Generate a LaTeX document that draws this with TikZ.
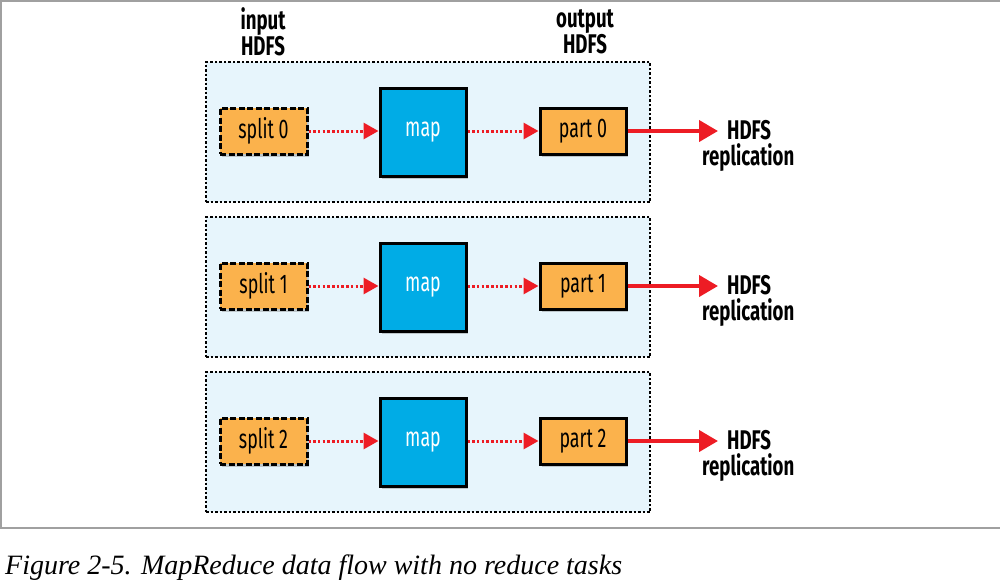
\documentclass[tikz,border=0pt]{standalone}
\usepackage{fontspec}
\setmainfont{Liberation Serif}
\newfontfamily\condfont[FakeStretch=0.66]{Fira Sans}
\newfontfamily\condbold[FakeStretch=0.69]{Fira Sans Bold}
\usepackage{xcolor}
\usetikzlibrary{arrows.meta,shadows}
\definecolor{hdBand}{RGB}{231,245,252}
\definecolor{hdOrange}{RGB}{251,178,76}
\definecolor{hdBlue}{RGB}{0,172,230}
\definecolor{hdRed}{RGB}{237,28,36}
\definecolor{hdFrame}{RGB}{160,160,160}

\begin{document}
\begin{tikzpicture}[
    x=1pt, y=-1pt,
    band/.style={rectangle, draw=black, fill=hdBand, line width=1.2pt, dash pattern=on 2.5pt off 2pt, minimum width=444pt, minimum height=140pt, inner sep=0pt},
    splitbox/.style={rectangle, draw=black, fill=hdOrange, line width=3pt, dash pattern=on 6pt off 2.5pt, minimum width=87pt, minimum height=46pt, inner sep=0pt, font=\condfont\fontsize{27}{29}\selectfont, drop shadow={shadow xshift=2pt, shadow yshift=-3pt, opacity=0.4}},
    partbox/.style={rectangle, draw=black, fill=hdOrange, line width=3pt, minimum width=86pt, minimum height=46pt, inner sep=0pt, font=\condfont\fontsize{27}{29}\selectfont, drop shadow={shadow xshift=2pt, shadow yshift=-3pt, opacity=0.4}},
    mapbox/.style={rectangle, draw=black, fill=hdBlue, text=white, line width=3pt, minimum width=86pt, minimum height=88pt, inner sep=0pt, font=\condfont\fontsize{27}{29}\selectfont, drop shadow={shadow xshift=2pt, shadow yshift=-3pt, opacity=0.4}},
    label/.style={align=center, font=\condbold\fontsize{27}{26}\selectfont, inner sep=0pt},
    flow/.style={-{Triangle[length=15pt,width=16pt]}, hdRed, line width=3pt, dash pattern=on 2.5pt off 2.2pt},
    repl/.style={-{Triangle[length=19pt,width=21pt]}, hdRed, line width=4pt}
]
\useasboundingbox (0,0) rectangle (1000,584);

% Outer frame
\draw[hdFrame, line width=2pt] (1000,1) -- (1,1) -- (1,528) -- (1000,528);

% Column titles (top)
\node[label] (inhdfs) at (263,32) {input\\HDFS};
\node[label] (outhdfs) at (585,32) {output\\HDFS};

% Bands (one per map task)
\node[band] (band0) at (428,132) {};
\node[band] (band1) at (428,287) {};
\node[band] (band2) at (428,442) {};

% Row 0
\node[splitbox] (split0) at (263.5,131) {split 0};
\node[mapbox] (map0) at (423,132) {map};
\node[partbox] (part0) at (583,131) {part 0};
\coordinate (out0) at (718,131);
\node[label, align=left, anchor=north west] (repl0) at (702,120) {\hspace*{25pt}HDFS\\replication};

% Row 1
\node[splitbox] (split1) at (263.5,286) {split 1};
\node[mapbox] (map1) at (423,287) {map};
\node[partbox] (part1) at (583,286) {part 1};
\coordinate (out1) at (718,286);
\node[label, align=left, anchor=north west] (repl1) at (702,275) {\hspace*{25pt}HDFS\\replication};

% Row 2
\node[splitbox] (split2) at (263.5,441) {split 2};
\node[mapbox] (map2) at (423,442) {map};
\node[partbox] (part2) at (583,441) {part 2};
\coordinate (out2) at (718,441);
\node[label, align=left, anchor=north west] (repl2) at (702,430) {\hspace*{25pt}HDFS\\replication};

% Data flow (dotted arrows)
\draw[flow] (split0) -- (map0.west |- split0);
\draw[flow] (map0.east |- part0) -- (part0);
\draw[flow] (split1) -- (map1.west |- split1);
\draw[flow] (map1.east |- part1) -- (part1);
\draw[flow] (split2) -- (map2.west |- split2);
\draw[flow] (map2.east |- part2) -- (part2);

% Replication (solid arrows)
\draw[repl] (part0) -- (out0);
\draw[repl] (part1) -- (out1);
\draw[repl] (part2) -- (out2);

% Caption
\node[anchor=base west, inner sep=0pt, font=\itshape\fontsize{28}{30}\selectfont] (caption) at (5,574) {Figure 2-5. MapReduce data flow with no reduce tasks};

\end{tikzpicture}
\end{document}
